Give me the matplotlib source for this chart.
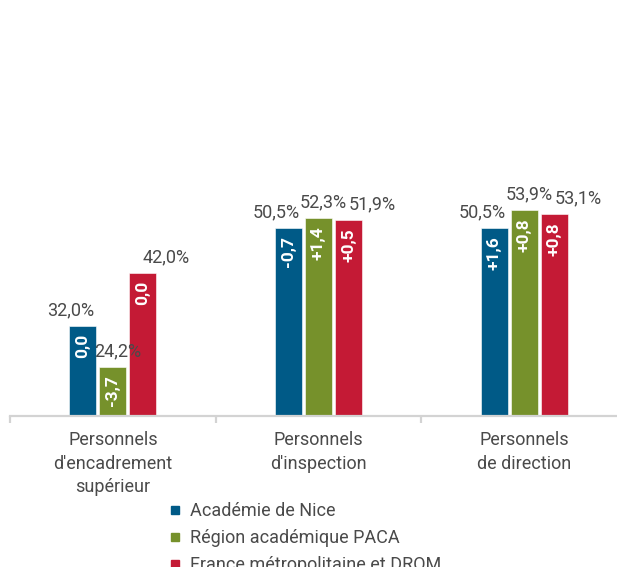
import matplotlib
matplotlib.use("Agg")
import matplotlib.pyplot as plt
from matplotlib.lines import Line2D
import numpy as np

plt.rcParams['font.family'] = ['Roboto', 'DejaVu Sans']

categories = ["Personnels\nd'encadrement\nsupérieur", "Personnels\nd'inspection", "Personnels\nde direction"]
series_names = ["Académie de Nice", "Région académique PACA", "France métropolitaine et DROM"]
nice = [32.0, 50.5, 50.5]
paca = [24.2, 52.3, 53.9]
france = [42.0, 51.9, 53.1]
nice_delta = ["0,0", "-0,7", "+1,6"]
paca_delta = ["-3,7", "+1,4", "+0,8"]
france_delta = ["0,0", "+0,5", "+0,8"]

colors = ["#005a87", "#76912b", "#c41a35"]
text_col = "#4a4a4a"

W, H = 617, 567
fig = plt.figure(figsize=(W/100, H/100), dpi=100)
ax = fig.add_axes([10/W, (H-416)/H, 617/W, 396/H])
ax.set_xlim(-0.5, 2.5)
ax.set_ylim(15, 15 + 396/5.3)

x = np.arange(len(categories))
bw = 0.131
step = 0.146
series = [nice, paca, france]
deltas = [nice_delta, paca_delta, france_delta]
lab_place = [("right", 8.5), ("center", 3.5), ("left", 0)]
for i, (vals, dl, col) in enumerate(zip(series, deltas, colors)):
    xs = x + (i - 1) * step
    ax.bar(xs, vals, width=bw, bottom=0, color=col, edgecolor='white', linewidth=0.4, zorder=2)
    ha, off = lab_place[i]
    for xi, v, d in zip(xs, vals, dl):
        ax.annotate(f"{v:.1f}%".replace('.', ','), (xi, v), xytext=(off, 5), textcoords='offset points',
                    ha=ha, va='bottom', fontsize=13, color=text_col, zorder=3)
        ax.annotate(d, (xi, v), xytext=(0, -6), textcoords='offset points', rotation=90,
                    ha='center', va='top', fontsize=12.5, fontweight='bold', color='white', zorder=3)

for s in ['top', 'right', 'left']:
    ax.spines[s].set_visible(False)
ax.spines['bottom'].set_color('#d3d3d3')
ax.spines['bottom'].set_linewidth(1.6)
ax.spines['bottom'].set_position(('data', 15))
ax.set_yticks([])
ax.set_xticks(x)
ax.set_xticklabels(categories, fontsize=13, color=text_col, linespacing=1.38)
ax.tick_params(axis='x', which='major', length=0, pad=11)
ax.set_xticks([-0.5, 0.5, 1.5, 2.5], minor=True)
ax.tick_params(axis='x', which='minor', length=5, width=1.6, color='#d3d3d3')

handles = [Line2D([0], [0], marker='s', linestyle='none', markersize=6, markerfacecolor=c, markeredgecolor=c) for c in colors]
fig.legend(handles, series_names, loc='upper left', bbox_to_anchor=(170/W, 1 - 502/H), frameon=False,
           fontsize=13, labelcolor=text_col, handlelength=0.6, handletextpad=0.5, labelspacing=0.5,
           borderaxespad=0, borderpad=0)

fig.savefig("out.png", dpi=100)
